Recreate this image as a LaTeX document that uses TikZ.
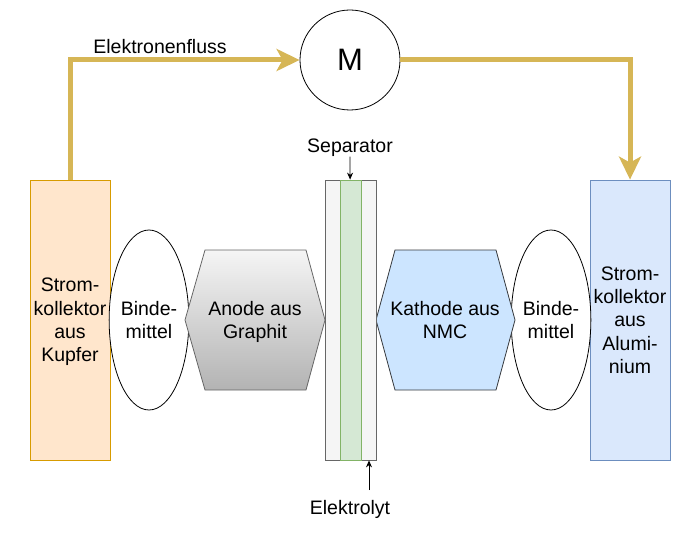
\documentclass[tikz,border=0pt]{standalone}
\usepackage{fontspec}
\setmainfont{Liberation Sans}
\usepackage{tikz}
\usetikzlibrary{arrows.meta,shapes.geometric,positioning}

\definecolor{kupferfill}{HTML}{FFE6CC}
\definecolor{kupferdraw}{HTML}{D79B00}
\definecolor{alufill}{HTML}{DAE8FC}
\definecolor{aludraw}{HTML}{6C8EBF}
\definecolor{sepfill}{HTML}{F5F5F5}
\definecolor{sepdraw}{HTML}{666666}
\definecolor{elytfill}{HTML}{D5E8D4}
\definecolor{elytdraw}{HTML}{82B366}
\definecolor{anodetop}{HTML}{F5F5F5}
\definecolor{anodebottom}{HTML}{B3B3B3}
\definecolor{kathodefill}{HTML}{CCE5FF}
\definecolor{kathodedraw}{HTML}{36393D}
\definecolor{flowgold}{HTML}{D6B656}

\begin{document}
\begin{tikzpicture}[x=1pt, y=-1pt, line width=0.8pt,
    every node/.style={font=\fontsize{19.5}{23.3}\selectfont, align=center, text depth=0pt},
    collector/.style={draw, rectangle, minimum width=80pt, minimum height=280pt, inner sep=0pt},
    binder/.style={draw, ellipse, fill=white, minimum width=78pt, minimum height=180pt, inner sep=0pt},
    flow/.style={draw=flowgold, line width=5pt, -{Stealth[length=23pt,width=22pt,inset=6pt]}},
    pointer/.style={-{Stealth[length=7pt,width=6pt]}, line width=0.8pt}]
    \useasboundingbox (0,0) rectangle (700,540);

    % Current collectors
    \node[collector, draw=kupferdraw, fill=kupferfill] (kupfer) at (70,320) {Strom-\\kollektor\\aus\\Kupfer};
    \node[collector, draw=aludraw, fill=alufill] (alu) at (630,320) {Strom-\\kollektor\\aus\\Alumi-\\nium};

    % Binder
    \node[binder] (binderleft) at (149,320) {Binde-\\mittel};
    \node[binder] (binderright) at (551,320) {Binde-\\mittel};

    % Electrodes
    \path[draw=sepdraw, top color=anodetop, bottom color=anodebottom]
        (205,250) -- (306,250) -- (325,320) -- (306,390) -- (205,390) -- (185,320) -- cycle;
    \node (anode) at (255,320) {Anode aus\\Graphit};
    \path[draw=kathodedraw, fill=kathodefill]
        (395,250) -- (496,250) -- (515,320) -- (496,390) -- (395,390) -- (376,320) -- cycle;
    \node (kathode) at (445,320) {Kathode aus\\NMC};

    % Separator with electrolyte
    \node[draw=sepdraw, fill=sepfill, minimum width=51pt, minimum height=280pt, inner sep=0pt] (sep) at (350.5,320) {};
    \node[draw=elytdraw, fill=elytfill, minimum width=21pt, minimum height=280pt, inner sep=0pt] (elyt) at (350.5,320) {};

    % Motor
    \node[draw, circle, minimum size=100pt, inner sep=0pt, font=\fontsize{31}{36}\selectfont] (motor) at (350,60) {M};

    % Labels
    \node (flusslabel) at (160,46) {Elektronenfluss};
    \node (seplabel) at (350,146) {Separator};
    \node (elytlabel) at (350,507) {Elektrolyt};
    \coordinate (elytarrow) at (369,490);

    % Arrows
    \draw[flow] (kupfer.north) |- (motor.west);
    \draw[flow] (motor.east) -| (alu.north);
    \draw[pointer] (seplabel) -- (sep);
    \draw[pointer] (elytarrow) -- (elytarrow |- sep.south);
\end{tikzpicture}
\end{document}
